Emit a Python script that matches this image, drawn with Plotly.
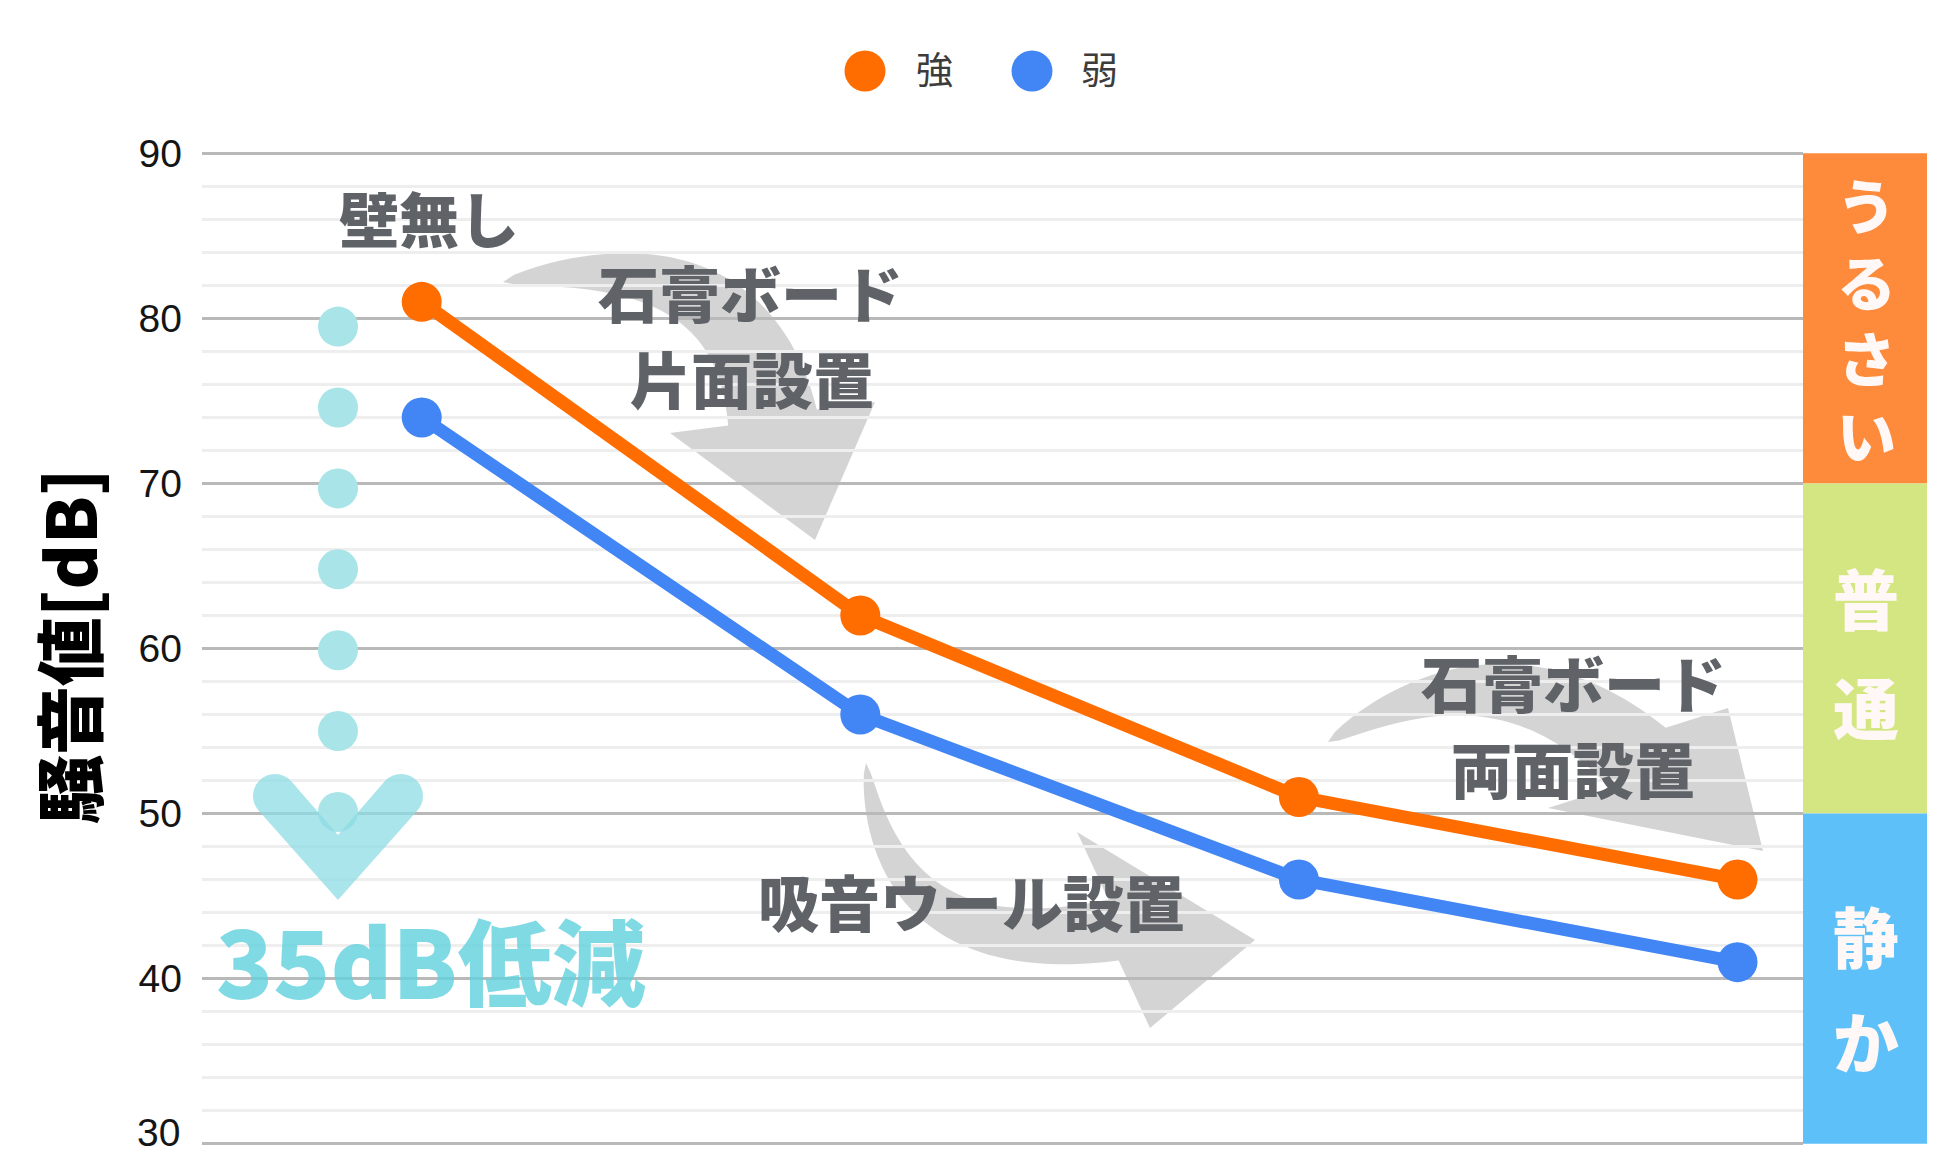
import numpy as np
import plotly.graph_objects as go

# ---------------- data ----------------
categories = ["壁無し", "石膏ボード片面設置", "吸音ウール設置", "石膏ボード両面設置"]
x_pos = [0, 1, 2, 3]
series_names = ["強", "弱"]
strong = [81, 62, 51, 46]
weak = [74, 56, 46, 41]
reduction_dots = [79.5, 74.6, 69.7, 64.8, 59.9, 55.0, 50.1]
y_ticks = [30, 40, 50, 60, 70, 80, 90]
zone_labels = ["うるさい", "普通", "静か"]
zone_bounds = [(70, 90), (50, 70), (30, 50)]
reduction_label = "35dB低減"
y_title = "騒音値[dB]"

# ---------------- styles / geometry ----------------
ORANGE = "#FF6D01"
BLUE = "#4285F4"
TEAL_DOT = "#A8E4E8"
ZONE_COLORS = ["#FD8B3B", "#D4E682", "#5EC0F9"]
LABEL_GRAY = "#5F6368"
CJK = "Noto Sans CJK JP"
TICK_FONT = dict(family="Liberation Sans", size=39, color="#151515")

FIG_W, FIG_H, OFF = 1923, 1148, 8          # page has an 8px body margin
PL, PR, PT, PB = 202, 1803, 150, 1147      # plot area in page pixels
YLO, YHI = 29.8, 90.2
KX = 438.6                                  # px per category step
X0PX = 421.7                                # page px of first category
XLO = (PL - X0PX) / KX
XHI = (PR - X0PX) / KX
PY_PER_UNIT = (PB - PT) / (YHI - YLO)


def paper(px, py):
    return (px - PL) / (PR - PL), (PB - py) / (PB - PT)


def data(px, py):
    return (XLO + (px - PL) / (PR - PL) * (XHI - XLO),
            YLO + (PB - py) / (PB - PT) * (YHI - YLO))


def path_from(points):
    pts = [data(p[0], p[1]) for p in points]
    s = "M {:.5f},{:.5f} ".format(*pts[0])
    s += " ".join("L {:.5f},{:.5f}".format(x, y) for x, y in pts[1:])
    return s + " Z"


def swoosh(p0, pc, barb_a, barb_b, tip, w_end, n=40):
    p0, pc, barb_a, barb_b, tip = map(np.array, (p0, pc, barb_a, barb_b, tip))
    p1 = (barb_a + barb_b) / 2
    t = np.linspace(0, 1, n)[:, None]
    pts = (1 - t) ** 2 * p0 + 2 * (1 - t) * t * pc + t ** 2 * p1
    d = 2 * (1 - t) * (pc - p0) + 2 * t * (p1 - pc)
    nrm = np.stack([-d[:, 1], d[:, 0]], 1)
    nrm /= np.linalg.norm(nrm, axis=1, keepdims=True)
    w = (w_end / 2) * t[:, 0] ** 0.6
    left = pts + nrm * w[:, None]
    right = pts - nrm * w[:, None]
    if np.dot(barb_a - p1, nrm[-1]) > 0:
        bl, br = barb_a, barb_b
    else:
        bl, br = barb_b, barb_a
    poly = list(left) + [bl, tip, br] + list(right[::-1])
    return path_from(poly)


def chevron():
    r = 22
    tl, tr = np.array([275., 796.]), np.array([401., 796.])
    pts = []
    for a in np.radians(np.linspace(138.4, 318.4, 16)):
        pts.append(tl + r * np.array([np.cos(a), np.sin(a)]))
    pts.append(np.array([338., 835.]))
    for a in np.radians(np.linspace(221.6, 401.6, 16)):
        pts.append(tr + r * np.array([np.cos(a), np.sin(a)]))
    pts.append(np.array([338., 900.]))
    return path_from(pts)


fig = go.Figure()

fig.add_trace(go.Scatter(
    x=[data(338, 0)[0]] * len(reduction_dots), y=reduction_dots, mode="markers",
    marker=dict(size=40, color=TEAL_DOT), showlegend=False, hoverinfo="skip"))

for name, vals, col in [(series_names[0], strong, ORANGE), (series_names[1], weak, BLUE)]:
    fig.add_trace(go.Scatter(
        x=x_pos, y=vals, mode="lines+markers", name=name,
        text=categories, line=dict(color=col, width=13),
        marker=dict(size=40, color=col), showlegend=False))

shapes = []
# gray swoosh arrows (behind grid)
arrow_fill = "rgba(195,195,195,0.72)"
for spec in [
    dict(p0=(503, 282), pc=(740, 236), barb_a=(670, 433), barb_b=(875, 402), tip=(815, 540), w_end=90),
    dict(p0=(866, 763), pc=(888, 968), barb_a=(1077, 832), barb_b=(1150, 1028), tip=(1255, 940), w_end=62),
    dict(p0=(1328, 742), pc=(1500, 632), barb_a=(1548, 808), barb_b=(1728, 708), tip=(1763, 851), w_end=82),
]:
    shapes.append(dict(type="path", xref="x", yref="y", path=swoosh(**spec),
                       fillcolor=arrow_fill, line=dict(width=0), layer="below"))

# teal chevron
shapes.append(dict(type="path", xref="x", yref="y", path=chevron(),
                   fillcolor="rgba(140,220,228,0.75)", line=dict(width=0), layer="above"))

# right-hand zone bars
xb0 = paper(1803, 0)[0]
xb1 = paper(1927, 0)[0]
for (lo, hi), col in zip(zone_bounds, ZONE_COLORS):
    shapes.append(dict(type="rect", xref="paper", yref="y", x0=xb0, x1=xb1, y0=lo, y1=hi,
                       fillcolor=col, line=dict(width=0), layer="above"))

# legend circles
for cx, col in [(865, ORANGE), (1032, BLUE)]:
    px_, py_ = paper(cx, 71)
    shapes.append(dict(type="circle", xref="paper", yref="paper", xsizemode="pixel",
                       ysizemode="pixel", xanchor=px_, yanchor=py_, x0=-20.5, x1=20.5,
                       y0=-20.5, y1=20.5, fillcolor=col, line=dict(width=0)))

annotations = []


def add_text(text, px, py, size, color, weight=900, family=CJK, angle=0):
    xp, yp = paper(px, py)
    annotations.append(dict(
        text=text, x=xp, y=yp, xref="paper", yref="paper", showarrow=False,
        xanchor="center", yanchor="middle", textangle=angle,
        font=dict(family=family, size=size, color=color, weight=weight)))


# legend labels
add_text(series_names[0], 934, 68, 37, "#3C3C3C", weight="normal")
add_text(series_names[1], 1099, 68, 37, "#3C3C3C", weight="normal")

# step labels
add_text("壁無し", 429, 216, 60, LABEL_GRAY)
add_text("石膏ボード", 750, 291, 61, LABEL_GRAY)
add_text("片面設置", 752, 377, 61, LABEL_GRAY)
add_text("吸音ウール設置", 971, 900, 61, LABEL_GRAY)
add_text("石膏ボード", 1573, 681, 61, LABEL_GRAY)
add_text("両面設置", 1573, 767, 61, LABEL_GRAY)

# reduction label
add_text(reduction_label, 431, 958, 94, "rgba(100,210,222,0.82)")

# y-axis title
add_text(y_title, 67, 646, 69, "#000000", angle=-90)

# lowest tick label: the axis hides it at the page edge, so it is placed
# as a label kept inside the figure
annotations.append(dict(
    text=str(y_ticks[0]), x=paper(182, 0)[0], y=paper(0, PB + OFF + 1)[1],
    xref="paper", yref="paper", xanchor="right", yanchor="bottom",
    showarrow=False, font=TICK_FONT))

# zone labels (vertical)
xz = paper(1866, 0)[0]
zone_font = [59, 66, 66]
zone_step_px = [None, 109, 105]
zone_shift_px = [0, 2, 8]
for label, (lo, hi), fs, step, shift in zip(zone_labels, zone_bounds, zone_font,
                                            zone_step_px, zone_shift_px):
    center = (lo + hi) / 2 - shift / PY_PER_UNIT
    if step is None:
        annotations.append(dict(
            text="<br>".join(label), x=xz, y=center, xref="paper", yref="y",
            showarrow=False, xanchor="center", yanchor="middle",
            font=dict(family=CJK, size=fs, color="#FFF8F6", weight=900)))
        continue
    n = len(label)
    for i, ch in enumerate(label):
        yv = center - (i - (n - 1) / 2) * step / PY_PER_UNIT
        annotations.append(dict(
            text=ch, x=xz, y=yv, xref="paper", yref="y", showarrow=False,
            xanchor="center", yanchor="middle",
            font=dict(family=CJK, size=fs, color="#FFF8F6", weight=900)))

fig.update_layout(
    width=FIG_W, height=FIG_H,
    margin=dict(l=PL - OFF, r=FIG_W - (PR - OFF), t=PT - OFF, b=FIG_H - (PB - OFF), pad=0),
    paper_bgcolor="white", plot_bgcolor="rgba(0,0,0,0)",
    showlegend=False,
    xaxis=dict(range=[XLO, XHI], visible=False, showgrid=False, zeroline=False),
    yaxis=dict(range=[YLO, YHI], tickmode="array", tickvals=y_ticks,
               ticktext=[str(v) for v in y_ticks],
               tickfont=TICK_FONT, ticks="", ticklabelstandoff=19,
               showgrid=True, gridcolor="#B9B9B9", gridwidth=2.5,
               zeroline=False, showline=False,
               minor=dict(dtick=2, tick0=30, showgrid=True, gridcolor="#EEEEEE", gridwidth=2.5)),
    shapes=shapes, annotations=annotations,
)

fig.write_html("out.html", config={"displayModeBar": False})
